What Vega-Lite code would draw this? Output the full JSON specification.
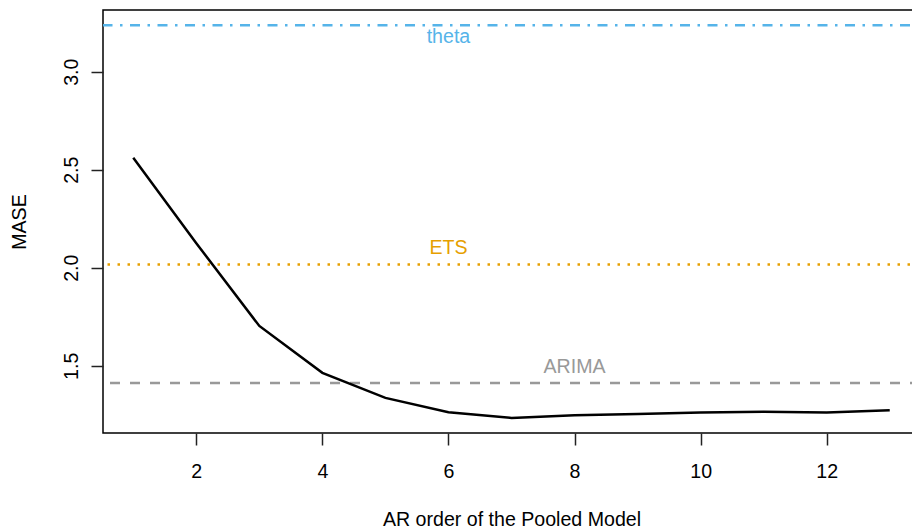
{
  "$schema": "https://vega.github.io/schema/vega-lite/v6.json",
  "width": 817,
  "height": 423,
  "autosize": {"type": "none"},
  "padding": {"left": 103, "top": 10, "right": 0, "bottom": 97},
  "background": "white",
  "config": {
    "font": "Liberation Sans",
    "view": {"stroke": "black", "strokeWidth": 1.5},
    "axis": {
      "grid": false,
      "domain": false,
      "tickColor": "#222222",
      "tickWidth": 1.5,
      "tickSize": 12,
      "labelColor": "black",
      "labelFont": "Liberation Sans",
      "labelFontSize": 19.6,
      "titleFont": "Liberation Sans",
      "titleFontSize": 19.6,
      "titleFontWeight": "normal",
      "titleColor": "black"
    }
  },
  "datasets": {
    "ar": [
      {"order": 1, "mase": 2.561},
      {"order": 2, "mase": 2.125},
      {"order": 3, "mase": 1.703},
      {"order": 4, "mase": 1.464},
      {"order": 5, "mase": 1.336},
      {"order": 6, "mase": 1.263},
      {"order": 7, "mase": 1.234},
      {"order": 8, "mase": 1.247},
      {"order": 9, "mase": 1.254},
      {"order": 10, "mase": 1.261},
      {"order": 11, "mase": 1.266},
      {"order": 12, "mase": 1.261},
      {"order": 13, "mase": 1.273}
    ],
    "bench": [
      {"method": "theta", "mase": 3.237, "lx": 6, "ly": 3.146},
      {"method": "ETS", "mase": 2.017, "lx": 6, "ly": 2.068},
      {"method": "ARIMA", "mase": 1.412, "lx": 8, "ly": 1.463}
    ]
  },
  "layer": [
    {
      "data": {"name": "bench"},
      "mark": {"type": "rule", "strokeWidth": 2.5, "clip": true},
      "encoding": {
        "y": {"field": "mase", "type": "quantitative", "scale": {"domain": [1.157, 3.3145], "nice": false, "zero": false}},
        "color": {"field": "method", "type": "nominal", "legend": null,
          "scale": {"domain": ["theta", "ETS", "ARIMA"], "range": ["#56B4E9", "#E69F00", "#999999"]}},
        "strokeDash": {"field": "method", "type": "nominal", "legend": null,
          "scale": {"domain": ["theta", "ETS", "ARIMA"], "range": [[2.5, 7.5, 10, 7.5], [2.5, 7.5], [10, 10]]}}
      }
    },
    {
      "data": {"name": "bench"},
      "mark": {"type": "text", "baseline": "alphabetic", "align": "center", "fontSize": 19.6, "font": "Liberation Sans"},
      "encoding": {
        "x": {"field": "lx", "type": "quantitative"},
        "y": {"field": "ly", "type": "quantitative"},
        "text": {"field": "method"},
        "color": {"field": "method", "type": "nominal", "legend": null,
          "scale": {"domain": ["theta", "ETS", "ARIMA"], "range": ["#56B4E9", "#E69F00", "#999999"]}}
      }
    },
    {
      "data": {"name": "ar"},
      "mark": {"type": "line", "color": "black", "strokeWidth": 2.5},
      "encoding": {
        "x": {"field": "order", "type": "quantitative",
          "scale": {"domain": [0.52, 13.48], "nice": false, "zero": false},
          "axis": {"values": [2, 4, 6, 8, 10, 12], "format": "d", "labelBaseline": "alphabetic", "labelPadding": 32,
            "labelFlush": false, "labelOverlap": false,
            "title": "AR order of the Pooled Model", "titleBaseline": "alphabetic", "titleY": 92}},
        "y": {"field": "mase", "type": "quantitative",
          "scale": {"domain": [1.157, 3.3145], "nice": false, "zero": false},
          "axis": {"values": [1.5, 2.0, 2.5, 3.0], "format": ".1f", "labelAngle": -90,
            "labelAlign": "center", "labelBaseline": "alphabetic", "labelPadding": 14,
            "labelFlush": false, "labelOverlap": false,
            "title": "MASE", "titleAngle": -90, "titleBaseline": "alphabetic", "titleX": -78, "titleY": 211.5, "titleAlign": "center"}}
      }
    }
  ]
}
